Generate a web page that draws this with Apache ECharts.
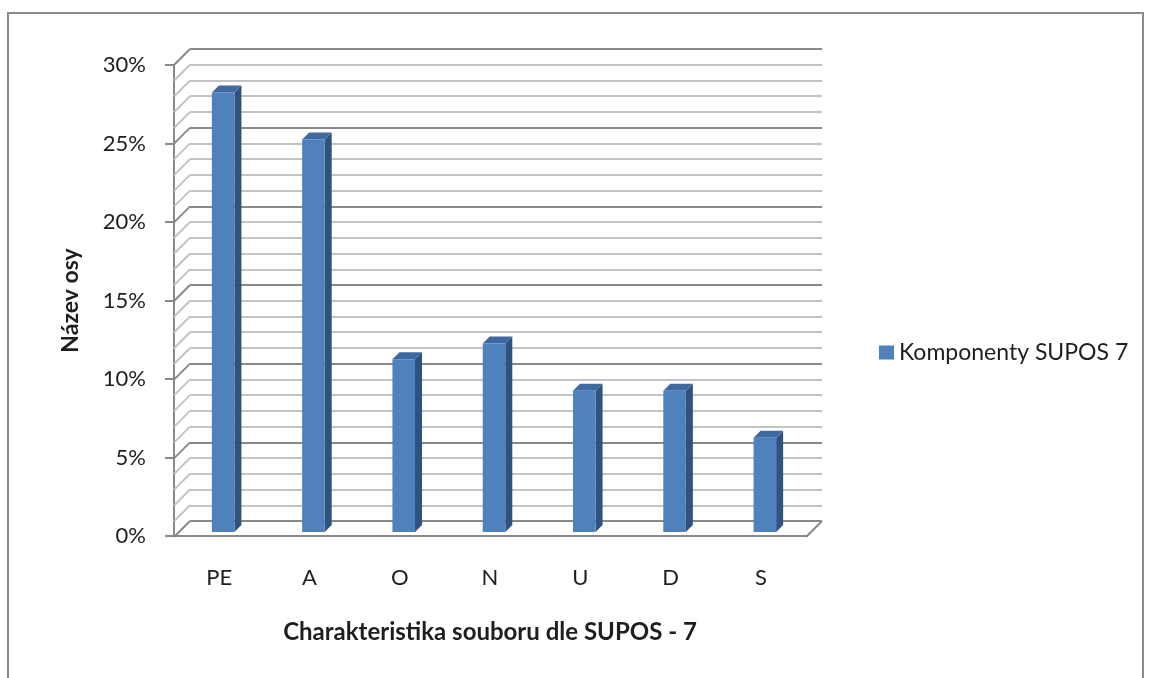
<!DOCTYPE html>
<html>
<head>
<meta charset="utf-8">
<script src="https://cdn.jsdelivr.net/npm/echarts@6/dist/echarts.min.js"></script>
<style>
  html, body { margin: 0; padding: 0; background: #fff; }
  #chart { width: 1152px; height: 678px; }
</style>
</head>
<body>
<div id="chart"></div>
<script>
// data (percent)
const categories = ['PE', 'A', 'O', 'N', 'U', 'D', 'S']
const values = [28, 25, 11, 12, 9, 9, 6]
const seriesName = 'Komponenty SUPOS 7'
const yMax = 30

const FONT = 'Lato'
const TEXT = '#1e1e1e'
const DEPTH = 16 // offset between front plane and back wall

const chart = echarts.init(document.getElementById('chart'))

// left wall diagonals, floor edge - drawn against the back wall grid
function renderWalls(params, api) {
  const children = []
  for (let v = 0; v <= yMax; v++) {
    const b = api.coord([0, v])
    const major = v % 5 === 0
    children.push({
      type: 'line',
      shape: { x1: b[0] - DEPTH, y1: b[1] + DEPTH, x2: b[0], y2: b[1] },
      style: { stroke: major ? '#898989' : '#c3c3c3', lineWidth: 2 }
    })
  }
  const r = api.coord([categories.length, 0])
  children.push({
    type: 'line',
    shape: { x1: r[0] - DEPTH, y1: r[1] + DEPTH, x2: r[0], y2: r[1] },
    style: { stroke: '#898989', lineWidth: 2 }
  })
  return { type: 'group', children: children, silent: true }
}

// 3d-looking column
function renderBar(params, api) {
  const base = api.coord([api.value(0), 0])
  const top = api.coord([api.value(0), api.value(1)])
  const w = api.size([1, 0])[0] * 0.25
  const off = 4
  const d = 7
  const x1 = base[0] + off - w / 2
  const x2 = x1 + w
  const yb = base[1] - off
  const yt = top[1] - off
  return {
    type: 'group',
    children: [
      {
        type: 'polygon',
        shape: { points: [[x2, yb], [x2 + d, yb - d], [x2 + d, yt - d], [x2, yt]] },
        style: { fill: '#30527f' }
      },
      {
        type: 'polygon',
        shape: { points: [[x1, yt], [x1 + d, yt - d], [x2 + d, yt - d], [x2, yt]] },
        style: { fill: '#3f69a0' }
      },
      {
        type: 'rect',
        shape: { x: x1, y: yt, width: w, height: yb - yt },
        style: { fill: '#4f81bd' }
      }
    ]
  }
}

chart.setOption({
  animation: false,
  graphic: [{
    type: 'rect',
    shape: { x: 8, y: 13, width: 1135, height: 700 },
    style: { fill: 'none', stroke: '#8a8a8a', lineWidth: 2 },
    silent: true
  }],
  legend: {
    left: 874,
    top: 336,
    icon: 'rect',
    itemWidth: 15,
    itemHeight: 14,
    itemGap: 8,
    textStyle: { fontFamily: FONT, fontSize: 23, color: TEXT },
    data: [seriesName]
  },
  grid: [
    { left: 174, right: 346, top: 65, bottom: 142 },
    { left: 190, right: 330, top: 49, bottom: 157 }
  ],
  xAxis: [
    {
      gridIndex: 0,
      type: 'category',
      data: categories,
      axisLine: { lineStyle: { color: '#898989', width: 2 } },
      axisTick: { show: false },
      axisLabel: { margin: 31, fontFamily: FONT, fontSize: 22, color: TEXT },
      name: 'Charakteristika souboru dle SUPOS - 7',
      nameLocation: 'middle',
      nameGap: 84,
      nameTextStyle: { fontFamily: FONT, fontSize: 24, fontWeight: 'bold', color: TEXT }
    },
    {
      gridIndex: 1,
      type: 'value',
      min: 0,
      max: categories.length,
      show: false
    }
  ],
  yAxis: [
    {
      gridIndex: 0,
      type: 'value',
      min: 0,
      max: yMax,
      interval: 5,
      axisLine: { show: true, lineStyle: { color: '#898989', width: 2 } },
      axisTick: { show: true, length: 9, lineStyle: { color: '#898989', width: 2 } },
      splitLine: { show: false },
      axisLabel: { margin: 28, fontFamily: FONT, fontSize: 22, color: TEXT, formatter: '{value}%' },
      name: 'Název osy',
      nameLocation: 'middle',
      nameGap: 92,
      nameRotate: 90,
      nameTextStyle: { fontFamily: FONT, fontSize: 23, fontWeight: 'bold', color: TEXT }
    },
    {
      gridIndex: 1,
      type: 'value',
      min: 0,
      max: yMax,
      interval: 1,
      axisLine: { show: false },
      axisTick: { show: false },
      axisLabel: { show: false },
      splitLine: {
        show: true,
        lineStyle: { width: 2, color: ['#898989', '#c3c3c3', '#c3c3c3', '#c3c3c3', '#c3c3c3'] }
      }
    }
  ],
  series: [
    {
      type: 'custom',
      xAxisIndex: 1,
      yAxisIndex: 1,
      renderItem: renderWalls,
      data: [[0, 0]],
      silent: true,
      z: 1
    },
    {
      name: seriesName,
      type: 'custom',
      xAxisIndex: 0,
      yAxisIndex: 0,
      itemStyle: { color: '#4f81bd' },
      renderItem: renderBar,
      data: values.map((v, i) => [i, v]),
      z: 3
    }
  ]
})
</script>
</body>
</html>
